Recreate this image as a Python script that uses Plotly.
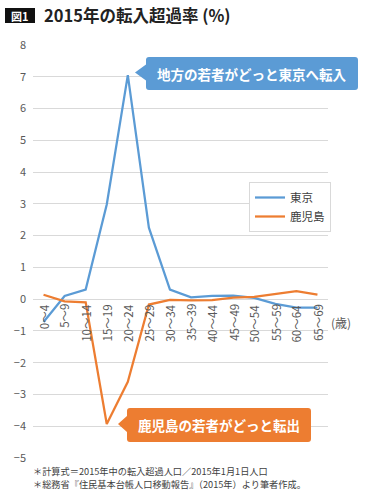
import plotly.graph_objects as go

categories = ["0～4", "5～9", "10～14", "15～19", "20～24", "25～29", "30～34",
              "35～39", "40～44", "45～49", "50～54", "55～59", "60～64", "65～69"]
tokyo = [-0.72, 0.1, 0.3, 2.98, 7.05, 2.25, 0.3, 0.06, 0.1, 0.11, 0.04, -0.15, -0.27, -0.27]
kagoshima = [0.14, -0.07, -0.1, -3.93, -2.6, -0.17, -0.02, -0.04, -0.03, 0.05, 0.07, 0.17, 0.25, 0.14]
y_ticks = list(range(-5, 9))

W, H = 367, 500
L, RR, T, B = 33, 328, 45, 458
FONT = "Noto Sans CJK JP"
BLUE = "#5b9bd5"
ORANGE = "#ed7d31"


def px(x):
    return (x - L) / (RR - L)


def py(y):
    return (B - y) / (B - T)


def callout(x0, y0, x1, y1, tx, ty, hb, r):
    pts = [("M", [(x0 + r, y0)]), ("L", [(x1 - r, y0)]), ("Q", [(x1, y0), (x1, y0 + r)]),
           ("L", [(x1, y1 - r)]), ("Q", [(x1, y1), (x1 - r, y1)]), ("L", [(x0 + r, y1)]),
           ("Q", [(x0, y1), (x0, y1 - r)]), ("L", [(x0, ty + hb)]), ("L", [(tx, ty)]),
           ("L", [(x0, ty - hb)]), ("L", [(x0, y0 + r)]), ("Q", [(x0, y0), (x0 + r, y0)])]
    s = ""
    for cmd, ps in pts:
        s += cmd + " " + " ".join(f"{px(a):.5f},{py(b):.5f}" for a, b in ps) + " "
    return s + "Z"


fig = go.Figure()
fig.add_trace(go.Scatter(x=list(range(len(categories))), y=tokyo, mode="lines", name="東京",
                         line=dict(color=BLUE, width=2.25)))
fig.add_trace(go.Scatter(x=list(range(len(categories))), y=kagoshima, mode="lines", name="鹿児島",
                         line=dict(color=ORANGE, width=2.25)))

shapes = [
    dict(type="path", xref="paper", yref="paper", path=callout(146, 57, 358, 90, 135, 72.5, 8, 3),
         fillcolor=BLUE, line=dict(width=0), layer="above"),
    dict(type="path", xref="paper", yref="paper", path=callout(127, 408, 311, 442, 118, 424, 8, 3),
         fillcolor=ORANGE, line=dict(width=0), layer="above"),
    dict(type="rect", xref="paper", yref="paper", x0=px(5), x1=px(35), y0=py(8), y1=py(23),
         fillcolor="#111111", line=dict(width=0)),
]

annotations = []
for i, c in enumerate(categories):
    annotations.append(dict(x=i, y=0, xref="x", yref="y", text=c, showarrow=False,
                            textangle=-90, xanchor="center", yanchor="top", yshift=-3,
                            font=dict(family=FONT, size=11.5, color="#595959")))
annotations += [
    dict(x=px(329), y=py(322), xref="paper", yref="paper", text="(歳)", showarrow=False,
         xanchor="left", yanchor="middle", font=dict(family=FONT, size=12, color="#595959")),
    dict(x=px(252), y=py(73.5), xref="paper", yref="paper", text="<b>地方の若者がどっと東京へ転入</b>",
         showarrow=False, xanchor="center", yanchor="middle",
         font=dict(family=FONT, size=13.5, color="white")),
    dict(x=px(219), y=py(425), xref="paper", yref="paper", text="<b>鹿児島の若者がどっと転出</b>",
         showarrow=False, xanchor="center", yanchor="middle",
         font=dict(family=FONT, size=13.5, color="white")),
    dict(x=px(20), y=py(15.5), xref="paper", yref="paper", text="<b>図1</b>", showarrow=False,
         xanchor="center", yanchor="middle", font=dict(family=FONT, size=11, color="white")),
    dict(x=px(42), y=py(15), xref="paper", yref="paper", text="<b>2015年の転入超過率 (%)</b>",
         showarrow=False, xanchor="left", yanchor="middle",
         font=dict(family=FONT, size=16.5, color="#222222")),
    dict(x=px(31), y=py(471), xref="paper", yref="paper",
         text="＊計算式＝2015年中の転入超過人口／2015年1月1日人口", showarrow=False,
         xanchor="left", yanchor="middle", font=dict(family=FONT, size=9.2, color="#404040")),
    dict(x=px(31), y=py(484), xref="paper", yref="paper",
         text="＊総務省『住民基本台帳人口移動報告』（2015年）より筆者作成。", showarrow=False,
         xanchor="left", yanchor="middle", font=dict(family=FONT, size=9.2, color="#404040")),
]

fig.update_layout(
    width=W, height=H,
    margin=dict(l=L, r=W - RR, t=T, b=H - B, pad=0),
    paper_bgcolor="white", plot_bgcolor="white",
    font=dict(family=FONT, color="#595959"),
    xaxis=dict(range=[-0.5, len(categories) - 0.5], showticklabels=False, showgrid=False,
               zeroline=False, showline=False, ticks=""),
    yaxis=dict(range=[-5, 8], tickvals=y_ticks, showgrid=True, gridcolor="#d9d9d9", gridwidth=1,
               zeroline=True, zerolinecolor="#d9d9d9", zerolinewidth=1, showline=False,
               ticks="", tickfont=dict(family=FONT, size=11, color="#595959"),
               ticklabelstandoff=6),
    legend=dict(x=px(249), y=py(182), xanchor="left", yanchor="top", bgcolor="white",
                bordercolor="#d9d9d9", borderwidth=1, itemwidth=30,
                font=dict(family=FONT, size=11.5, color="#404040")),
    shapes=shapes, annotations=annotations, showlegend=True,
)

fig.write_html("out.html", config={"displayModeBar": False},
               post_script="document.body.style.margin='0';")
